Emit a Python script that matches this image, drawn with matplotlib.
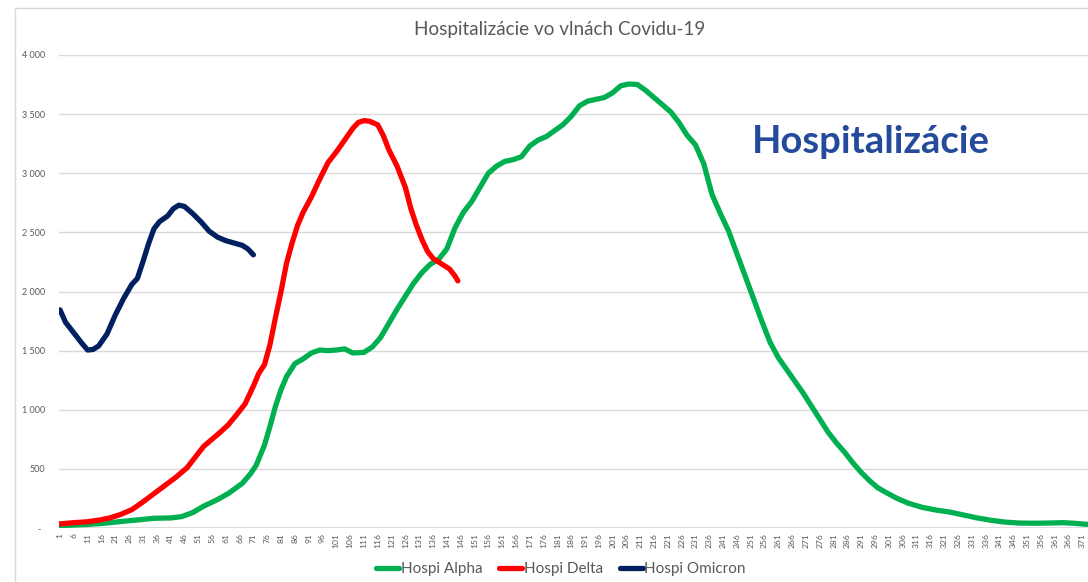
import matplotlib
matplotlib.use("Agg")
import matplotlib.pyplot as plt
from matplotlib.lines import Line2D

plt.rcParams['font.family'] = ['Lato', 'DejaVu Sans']

title = "Hospitalizácie vo vlnách Covidu-19"
annotation = "Hospitalizácie"

alpha_days = [1, 6, 11, 17, 23, 29, 35, 41, 45, 49, 53, 58, 62, 67, 70, 72, 75, 77, 79, 81, 83, 86, 89,
              92, 95, 98, 101, 104, 107, 111, 114, 117, 120, 123, 126, 129, 132, 135, 138, 141, 144, 147,
              150, 153, 156, 159, 162, 165, 168, 171, 174, 177, 180, 183, 186, 189, 192, 195, 198, 201,
              204, 207, 210, 213, 216, 219, 222, 225, 228, 231, 234, 237, 240, 243, 246, 249, 252, 255,
              258, 261, 264, 267, 270, 273, 276, 279, 282, 285, 288, 291, 294, 297, 300, 304, 308, 313,
              318, 323, 328, 333, 338, 343, 348, 354, 359, 364, 368, 372, 375]
alpha_vals = [20, 25, 30, 40, 55, 68, 82, 85, 96, 130, 185, 240, 293, 378, 460, 530, 700, 860, 1030,
              1170, 1280, 1390, 1430, 1480, 1505, 1500, 1505, 1515, 1480, 1485, 1530, 1610, 1730, 1850,
              1960, 2070, 2160, 2230, 2270, 2360, 2540, 2670, 2760, 2880, 3000, 3060, 3100, 3115, 3140,
              3230, 3280, 3310, 3360, 3410, 3480, 3570, 3610, 3625, 3640, 3680, 3740, 3755, 3750, 3700,
              3640, 3580, 3520, 3430, 3320, 3240, 3080, 2820, 2660, 2510, 2320, 2130, 1940, 1750, 1570,
              1440, 1340, 1240, 1140, 1030, 920, 810, 720, 640, 550, 470, 400, 340, 300, 250, 210, 175,
              152, 135, 110, 85, 65, 50, 42, 40, 42, 45, 40, 32, 30]

delta_days = [1, 6, 11, 16, 19, 23, 27, 31, 35, 39, 43, 47, 50, 53, 56, 59, 62, 65, 68, 71, 73, 75, 77,
              79, 81, 83, 85, 87, 89, 92, 95, 98, 101, 104, 107, 109, 111, 113, 116, 118, 120, 123, 126,
              128, 130, 132, 134, 136, 138, 140, 142, 144, 145]
delta_vals = [35, 45, 53, 70, 85, 115, 155, 220, 290, 360, 430, 510, 600, 690, 750, 810, 875, 960, 1050,
              1200, 1310, 1380, 1550, 1780, 2000, 2240, 2410, 2560, 2670, 2800, 2950, 3090, 3180, 3280,
              3380, 3430, 3445, 3440, 3410, 3320, 3200, 3060, 2880, 2700, 2560, 2440, 2340, 2280, 2250,
              2220, 2190, 2130, 2090]

omicron_days = [1, 3, 6, 9, 11, 13, 15, 18, 21, 24, 27, 29, 31, 33, 35, 37, 40, 42, 44, 46, 49, 52, 55,
                58, 61, 64, 67, 69, 71]
omicron_vals = [1845, 1740, 1650, 1560, 1505, 1510, 1540, 1640, 1800, 1940, 2060, 2110, 2250, 2400, 2530,
                2590, 2640, 2700, 2730, 2720, 2660, 2590, 2510, 2460, 2430, 2410, 2390, 2360, 2310]

x_ticks = list(range(1, 376, 5))
y_ticks = [0, 500, 1000, 1500, 2000, 2500, 3000, 3500, 4000]
y_labels = ["-  ", "500", "1 000", "1 500", "2 000", "2 500", "3 000", "3 500", "4 000"]

W, H = 1088, 582
fig = plt.figure(figsize=(W / 100, H / 100), dpi=100)
left_px, right_px = 58.6, 1089.2
top_px, bottom_px = 55, 528
ax = fig.add_axes([left_px / W, (H - bottom_px) / H, (right_px - left_px) / W, (bottom_px - top_px) / H])
ax.set_xlim(0.5, 373.5)
ax.set_ylim(0, 4000)

grid_c = "#D9D9D9"
for y in y_ticks[1:]:
    ax.axhline(y, color=grid_c, lw=1.0, zorder=0)
ax.axhline(0, color=grid_c, lw=1.3, zorder=0)

c_alpha, c_delta, c_omi = "#00B050", "#FF0000", "#002060"
lw = 3.8
ax.plot(alpha_days, alpha_vals, color=c_alpha, lw=lw, solid_capstyle='round', solid_joinstyle='round')
ax.plot(delta_days, delta_vals, color=c_delta, lw=lw, solid_capstyle='round', solid_joinstyle='round')
ax.plot(omicron_days, omicron_vals, color=c_omi, lw=lw, solid_capstyle='round', solid_joinstyle='round')

for s in ax.spines.values():
    s.set_visible(False)

ax.set_yticks(y_ticks)
ax.set_yticklabels(y_labels)
ax.set_xticks(x_ticks)
ax.set_xticklabels([str(t) for t in x_ticks], rotation=90)
ax.tick_params(axis='y', length=0, pad=9.5, labelsize=6.5, labelcolor="#595959")
ax.tick_params(axis='x', length=0, pad=3.5, labelsize=6.1, labelcolor="#595959")

fig.text(560 / W, (H - 30) / H, title, ha='center', va='center', fontsize=13.6, color="#595959")
fig.text(871 / W, (H - 142) / H, annotation, ha='center', va='center', fontsize=27.5,
         fontweight='bold', color="#244A9B")

# chart border
fig.add_artist(Line2D([15 / W, 15 / W], [0, (H - 8) / H], color=grid_c, lw=1.0))
fig.add_artist(Line2D([15 / W, 1], [(H - 8) / H, (H - 8) / H], color=grid_c, lw=1.0))

handles = [Line2D([], [], color=c, lw=lw, solid_capstyle='round') for c in (c_alpha, c_delta, c_omi)]
fig.legend(handles, ["Hospi Alpha", "Hospi Delta", "Hospi Omicron"], loc='center',
           bbox_to_anchor=(561 / W, (H - 569) / H), ncol=3, frameon=False, fontsize=11,
           labelcolor="#595959", handlelength=1.5, handletextpad=0.1, columnspacing=1.1)

fig.savefig("out.png", dpi=100)
